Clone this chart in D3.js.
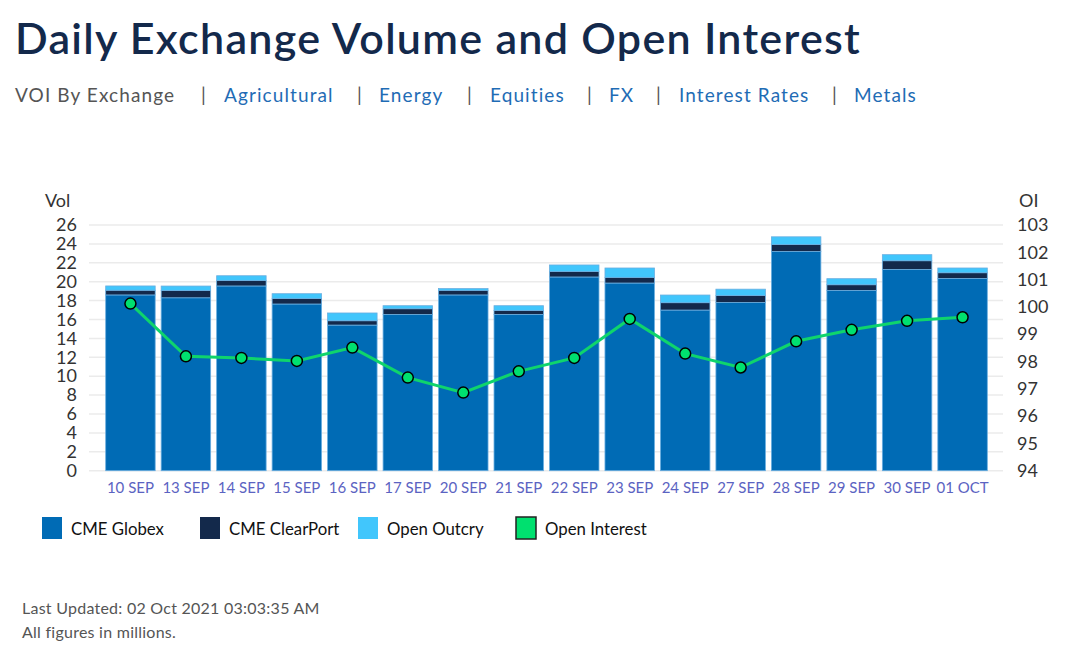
<!DOCTYPE html>
<html><head><meta charset="utf-8">
<script src="https://cdn.jsdelivr.net/npm/d3@7"></script>
<style>
body{margin:0;background:#fff;font-family:Lato,"Open Sans",sans-serif;}
</style></head><body>
<svg id="c" width="1067" height="654"></svg>
<script>
const dates = ["10 SEP","13 SEP","14 SEP","15 SEP","16 SEP","17 SEP","20 SEP","21 SEP","22 SEP","23 SEP","24 SEP","27 SEP","28 SEP","29 SEP","30 SEP","01 OCT"];
const globex   = [18.6,18.3,19.55,17.64,15.41,16.54,18.6,16.54,20.5,19.86,17.0,17.8,23.2,19.08,21.3,20.35];
const clearport= [0.5,0.77,0.59,0.59,0.46,0.6,0.49,0.42,0.59,0.6,0.78,0.74,0.74,0.6,0.92,0.6];
const outcry   = [0.45,0.47,0.49,0.5,0.82,0.32,0.18,0.5,0.68,0.99,0.81,0.67,0.81,0.64,0.64,0.5];
const openInterest = [100.12,98.19,98.13,98.02,98.51,97.41,96.86,97.64,98.13,99.56,98.29,97.78,98.74,99.16,99.49,99.62];
const volTicks = [0,2,4,6,8,10,12,14,16,18,20,22,24,26];
const oiTicks = [94,95,96,97,98,99,100,101,102,103];
const seriesNames = ["CME Globex","CME ClearPort","Open Outcry","Open Interest"];
const navItems = ["Agricultural","Energy","Equities","FX","Interest Rates","Metals"];

(function(){
const colors = {globex:"#006bb5", clearport:"#13294b", outcry:"#41c6fc", oi:"#00e06f"};
const FF = "Lato, sans-serif";
const svg = d3.select("#c");
const pl = 102.7, pr = 990.3, pt = 225, pb = 470.7;

// Title
svg.append("text").attr("x",15).attr("y",54).attr("font-size",43).attr("font-weight",600)
  .attr("fill","#13294b").attr("font-family",FF).attr("letter-spacing","1.3")
  .text("Daily Exchange Volume and Open Interest");

// Nav
const navX = [224,379,490,609,679,854];
const sepX = [201,357,467,587,656,832];
const nav = svg.append("g").attr("font-size",19).attr("font-family",FF).attr("letter-spacing","1.1");
nav.append("text").attr("x",15).attr("y",102).attr("fill","#555").text("VOI By Exchange");
navItems.forEach((n,i)=>{
  nav.append("text").attr("x",sepX[i]).attr("y",102).attr("fill","#555").text("|");
  nav.append("text").attr("x",navX[i]).attr("y",102).attr("fill","#1f6cb5").text(n);
});

const x = d3.scaleBand().domain(dates).range([pl,pr]).paddingInner(0.108).paddingOuter(0.054);
const yV = d3.scaleLinear().domain([0,26]).range([pb,pt]);
const yO = d3.scaleLinear().domain([94,103]).range([pb,pt]);

// gridlines
svg.append("g").selectAll("line").data(volTicks).join("line")
  .attr("x1",89).attr("x2",1003).attr("y1",d=>yV(d)).attr("y2",d=>yV(d))
  .attr("stroke","#ebebeb").attr("stroke-width",1.5);

// Left axis
const gL = svg.append("g").attr("transform",`translate(77,0)`)
  .call(d3.axisLeft(yV).tickValues(volTicks).tickSize(0).tickPadding(0));
gL.select(".domain").remove();
gL.selectAll("text").attr("font-size",18).attr("fill","#333").attr("font-family",FF);

// Right axis
const gR = svg.append("g").attr("transform",`translate(1017,0)`)
  .call(d3.axisRight(yO).tickValues(oiTicks).tickSize(0).tickPadding(0));
gR.select(".domain").remove();
gR.selectAll("text").attr("font-size",18).attr("fill","#333").attr("font-family",FF);

svg.append("text").attr("x",45).attr("y",207).attr("font-size",18).attr("fill","#333").attr("font-family",FF).text("Vol");
svg.append("text").attr("x",1019).attr("y",207).attr("font-size",18).attr("fill","#333").attr("font-family",FF).text("OI");

// stacked bars
const rows = dates.map((d,i)=>({date:d, globex:globex[i], clearport:clearport[i], outcry:outcry[i]}));
const stack = d3.stack().keys(["globex","clearport","outcry"])(rows);
svg.append("g").selectAll("g").data(stack).join("g")
  .attr("fill",s=>colors[s.key])
  .selectAll("rect").data(s=>s).join("rect")
  .attr("x",d=>x(d.data.date)).attr("width",x.bandwidth())
  .attr("y",d=>yV(d[1])).attr("height",d=>yV(d[0])-yV(d[1]))
  .attr("stroke","#6aaee0").attr("stroke-width",0.8);

// x labels
const gX = svg.append("g").attr("transform",`translate(0,${pb})`)
  .call(d3.axisBottom(x).tickSize(0).tickPadding(12));
gX.select(".domain").remove();
gX.selectAll("text").attr("font-size",15).attr("fill","#5b63c2").attr("font-family",FF);

// OI line
const line = d3.line().x((d,i)=>x(dates[i])+x.bandwidth()/2).y(d=>yO(d));
svg.append("path").datum(openInterest).attr("d",line).attr("fill","none")
  .attr("stroke","#0fd46c").attr("stroke-width",3);
svg.append("g").selectAll("circle").data(openInterest).join("circle")
  .attr("cx",(d,i)=>x(dates[i])+x.bandwidth()/2).attr("cy",d=>yO(d)).attr("r",5.5)
  .attr("fill",colors.oi).attr("stroke","#000").attr("stroke-width",1.5);

// Legend
const legX = [42,200,358,516];
const legColors = [colors.globex, colors.clearport, colors.outcry, colors.oi];
const lg = svg.append("g");
seriesNames.forEach((n,i)=>{
  lg.append("rect").attr("x",legX[i]).attr("y",517).attr("width",20).attr("height",22)
    .attr("fill",legColors[i]).attr("stroke", i===3?"#222":"none").attr("stroke-width",1.5);
  lg.append("text").attr("x",legX[i]+29).attr("y",535).attr("font-size",16.8).attr("fill","#111")
    .attr("font-family",FF).text(n);
});

// Footer
svg.append("text").attr("x",22).attr("y",614).attr("font-size",16).attr("letter-spacing","0.25").attr("fill","#555").attr("font-family",FF).text("Last Updated: 02 Oct 2021 03:03:35 AM");
svg.append("text").attr("x",22).attr("y",638).attr("font-size",16).attr("letter-spacing","0.25").attr("fill","#555").attr("font-family",FF).text("All figures in millions.");
})();
</script>
</body></html>
